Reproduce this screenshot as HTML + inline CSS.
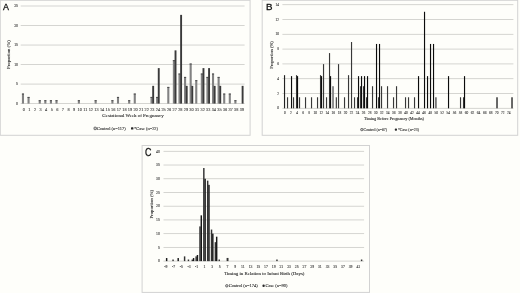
<!DOCTYPE html>
<html><head><meta charset="utf-8"><title>Figure</title>
<style>
html,body{margin:0;padding:0;background:#fefefa;}
body{width:520px;height:293px;overflow:hidden;}
svg{display:block}
.sf{font-family:"Liberation Serif","DejaVu Serif",serif;stroke:#2a2a2a;stroke-width:0.09px;}
.sl{font-family:"Liberation Serif","DejaVu Serif",serif;stroke:#444;stroke-width:0.1px;}
.ss{font-family:"Liberation Sans","DejaVu Sans",sans-serif;}
</style></head><body>
<svg width="520" height="293" viewBox="0 0 520 293">
<rect width="520" height="293" fill="#fefefa"/>
<rect x="0.3" y="0.3" width="249.79999999999998" height="135.0" fill="none" stroke="#d2d2d2" stroke-width="1"/>
<rect x="262.2" y="0.3" width="255.50000000000006" height="135.0" fill="none" stroke="#d2d2d2" stroke-width="1"/>
<rect x="142.1" y="145.5" width="227.4" height="146.89999999999998" fill="none" stroke="#d2d2d2" stroke-width="1"/>
<rect x="20.7" y="103.20" width="223.90" height="0.8" fill="#cbcbc7"/>
<text class="sl" x="18.00" y="104.85" font-size="3.8" text-anchor="end" fill="#444" >0</text>
<rect x="20.7" y="83.68" width="223.90" height="0.8" fill="#cbcbc7"/>
<text class="sl" x="18.00" y="85.33" font-size="3.8" text-anchor="end" fill="#444" >5</text>
<rect x="20.7" y="64.16" width="223.90" height="0.8" fill="#cbcbc7"/>
<text class="sl" x="18.00" y="65.81" font-size="3.8" text-anchor="end" fill="#444" >10</text>
<rect x="20.7" y="44.64" width="223.90" height="0.8" fill="#cbcbc7"/>
<text class="sl" x="18.00" y="46.29" font-size="3.8" text-anchor="end" fill="#444" >15</text>
<rect x="20.7" y="25.12" width="223.90" height="0.8" fill="#cbcbc7"/>
<text class="sl" x="18.00" y="26.77" font-size="3.8" text-anchor="end" fill="#444" >20</text>
<rect x="20.7" y="5.60" width="223.90" height="0.8" fill="#cbcbc7"/>
<text class="sl" x="18.00" y="7.25" font-size="3.8" text-anchor="end" fill="#444" >25</text>
<rect x="21.92" y="93.59" width="2.10" height="10.01" fill="#828282"/>
<rect x="21.92" y="93.59" width="2.10" height="0.90" fill="#444444"/>
<text class="sl" x="23.80" y="110.60" font-size="4.3" text-anchor="middle" fill="#444" >0</text>
<rect x="27.51" y="96.93" width="2.10" height="6.67" fill="#828282"/>
<rect x="27.51" y="96.93" width="2.10" height="0.90" fill="#444444"/>
<text class="sl" x="29.38" y="110.60" font-size="4.3" text-anchor="middle" fill="#444" >1</text>
<text class="sl" x="34.98" y="110.60" font-size="4.3" text-anchor="middle" fill="#444" >2</text>
<rect x="38.69" y="100.26" width="2.10" height="3.34" fill="#828282"/>
<rect x="38.69" y="100.26" width="2.10" height="0.90" fill="#444444"/>
<text class="sl" x="40.56" y="110.60" font-size="4.3" text-anchor="middle" fill="#444" >3</text>
<rect x="44.28" y="100.26" width="2.10" height="3.34" fill="#828282"/>
<rect x="44.28" y="100.26" width="2.10" height="0.90" fill="#444444"/>
<text class="sl" x="46.16" y="110.60" font-size="4.3" text-anchor="middle" fill="#444" >4</text>
<rect x="49.87" y="100.26" width="2.10" height="3.34" fill="#828282"/>
<rect x="49.87" y="100.26" width="2.10" height="0.90" fill="#444444"/>
<text class="sl" x="51.74" y="110.60" font-size="4.3" text-anchor="middle" fill="#444" >5</text>
<rect x="55.46" y="100.26" width="2.10" height="3.34" fill="#828282"/>
<rect x="55.46" y="100.26" width="2.10" height="0.90" fill="#444444"/>
<text class="sl" x="57.34" y="110.60" font-size="4.3" text-anchor="middle" fill="#444" >6</text>
<text class="sl" x="62.92" y="110.60" font-size="4.3" text-anchor="middle" fill="#444" >7</text>
<text class="sl" x="68.52" y="110.60" font-size="4.3" text-anchor="middle" fill="#444" >8</text>
<text class="sl" x="74.10" y="110.60" font-size="4.3" text-anchor="middle" fill="#444" >9</text>
<rect x="77.82" y="100.26" width="2.10" height="3.34" fill="#828282"/>
<rect x="77.82" y="100.26" width="2.10" height="0.90" fill="#444444"/>
<text class="sl" x="79.69" y="110.60" font-size="4.3" text-anchor="middle" fill="#444" >10</text>
<text class="sl" x="85.28" y="110.60" font-size="4.3" text-anchor="middle" fill="#444" >11</text>
<text class="sl" x="90.88" y="110.60" font-size="4.3" text-anchor="middle" fill="#444" >12</text>
<rect x="94.59" y="100.26" width="2.10" height="3.34" fill="#828282"/>
<rect x="94.59" y="100.26" width="2.10" height="0.90" fill="#444444"/>
<text class="sl" x="96.47" y="110.60" font-size="4.3" text-anchor="middle" fill="#444" >13</text>
<text class="sl" x="102.05" y="110.60" font-size="4.3" text-anchor="middle" fill="#444" >14</text>
<text class="sl" x="107.64" y="110.60" font-size="4.3" text-anchor="middle" fill="#444" >15</text>
<rect x="111.36" y="100.26" width="2.10" height="3.34" fill="#828282"/>
<rect x="111.36" y="100.26" width="2.10" height="0.90" fill="#444444"/>
<text class="sl" x="113.23" y="110.60" font-size="4.3" text-anchor="middle" fill="#444" >16</text>
<rect x="116.95" y="96.93" width="2.10" height="6.67" fill="#828282"/>
<rect x="116.95" y="96.93" width="2.10" height="0.90" fill="#444444"/>
<text class="sl" x="118.83" y="110.60" font-size="4.3" text-anchor="middle" fill="#444" >17</text>
<text class="sl" x="124.41" y="110.60" font-size="4.3" text-anchor="middle" fill="#444" >18</text>
<rect x="128.13" y="100.26" width="2.10" height="3.34" fill="#828282"/>
<rect x="128.13" y="100.26" width="2.10" height="0.90" fill="#444444"/>
<text class="sl" x="130.00" y="110.60" font-size="4.3" text-anchor="middle" fill="#444" >19</text>
<rect x="133.72" y="93.59" width="2.10" height="10.01" fill="#828282"/>
<rect x="133.72" y="93.59" width="2.10" height="0.90" fill="#444444"/>
<text class="sl" x="135.59" y="110.60" font-size="4.3" text-anchor="middle" fill="#444" >20</text>
<text class="sl" x="141.19" y="110.60" font-size="4.3" text-anchor="middle" fill="#444" >21</text>
<text class="sl" x="146.77" y="110.60" font-size="4.3" text-anchor="middle" fill="#444" >22</text>
<rect x="150.49" y="96.93" width="2.10" height="6.67" fill="#828282"/>
<rect x="150.49" y="96.93" width="2.10" height="0.90" fill="#444444"/>
<rect x="152.22" y="85.85" width="1.90" height="17.75" fill="#3a3a3a"/>
<text class="sl" x="152.37" y="110.60" font-size="4.3" text-anchor="middle" fill="#444" >23</text>
<rect x="156.08" y="96.93" width="2.10" height="6.67" fill="#828282"/>
<rect x="156.08" y="96.93" width="2.10" height="0.90" fill="#444444"/>
<rect x="157.80" y="68.11" width="1.90" height="35.49" fill="#3a3a3a"/>
<text class="sl" x="157.95" y="110.60" font-size="4.3" text-anchor="middle" fill="#444" >24</text>
<text class="sl" x="163.54" y="110.60" font-size="4.3" text-anchor="middle" fill="#444" >25</text>
<rect x="167.26" y="86.92" width="2.10" height="16.68" fill="#828282"/>
<rect x="167.26" y="86.92" width="2.10" height="0.90" fill="#444444"/>
<text class="sl" x="169.13" y="110.60" font-size="4.3" text-anchor="middle" fill="#444" >26</text>
<rect x="172.85" y="60.22" width="2.10" height="43.38" fill="#828282"/>
<rect x="172.85" y="60.22" width="2.10" height="0.90" fill="#444444"/>
<rect x="174.57" y="50.36" width="1.90" height="53.24" fill="#3a3a3a"/>
<text class="sl" x="174.72" y="110.60" font-size="4.3" text-anchor="middle" fill="#444" >27</text>
<rect x="178.44" y="73.57" width="2.10" height="30.03" fill="#828282"/>
<rect x="178.44" y="73.57" width="2.10" height="0.90" fill="#444444"/>
<rect x="180.16" y="14.87" width="1.90" height="88.73" fill="#3a3a3a"/>
<text class="sl" x="180.31" y="110.60" font-size="4.3" text-anchor="middle" fill="#444" >28</text>
<rect x="184.03" y="76.91" width="2.10" height="26.69" fill="#828282"/>
<rect x="184.03" y="76.91" width="2.10" height="0.90" fill="#444444"/>
<rect x="185.75" y="85.85" width="1.90" height="17.75" fill="#3a3a3a"/>
<text class="sl" x="185.91" y="110.60" font-size="4.3" text-anchor="middle" fill="#444" >29</text>
<rect x="189.62" y="63.56" width="2.10" height="40.04" fill="#828282"/>
<rect x="189.62" y="63.56" width="2.10" height="0.90" fill="#444444"/>
<rect x="191.34" y="85.85" width="1.90" height="17.75" fill="#3a3a3a"/>
<text class="sl" x="191.50" y="110.60" font-size="4.3" text-anchor="middle" fill="#444" >30</text>
<rect x="195.21" y="80.24" width="2.10" height="23.36" fill="#828282"/>
<rect x="195.21" y="80.24" width="2.10" height="0.90" fill="#444444"/>
<text class="sl" x="197.09" y="110.60" font-size="4.3" text-anchor="middle" fill="#444" >31</text>
<rect x="200.80" y="73.57" width="2.10" height="30.03" fill="#828282"/>
<rect x="200.80" y="73.57" width="2.10" height="0.90" fill="#444444"/>
<rect x="202.52" y="68.11" width="1.90" height="35.49" fill="#3a3a3a"/>
<text class="sl" x="202.67" y="110.60" font-size="4.3" text-anchor="middle" fill="#444" >32</text>
<rect x="206.39" y="76.91" width="2.10" height="26.69" fill="#828282"/>
<rect x="206.39" y="76.91" width="2.10" height="0.90" fill="#444444"/>
<rect x="208.11" y="68.11" width="1.90" height="35.49" fill="#3a3a3a"/>
<text class="sl" x="208.26" y="110.60" font-size="4.3" text-anchor="middle" fill="#444" >33</text>
<rect x="211.98" y="73.57" width="2.10" height="30.03" fill="#828282"/>
<rect x="211.98" y="73.57" width="2.10" height="0.90" fill="#444444"/>
<rect x="213.70" y="85.85" width="1.90" height="17.75" fill="#3a3a3a"/>
<text class="sl" x="213.85" y="110.60" font-size="4.3" text-anchor="middle" fill="#444" >34</text>
<rect x="217.57" y="76.91" width="2.10" height="26.69" fill="#828282"/>
<rect x="217.57" y="76.91" width="2.10" height="0.90" fill="#444444"/>
<rect x="219.29" y="85.85" width="1.90" height="17.75" fill="#3a3a3a"/>
<text class="sl" x="219.44" y="110.60" font-size="4.3" text-anchor="middle" fill="#444" >35</text>
<rect x="223.16" y="93.59" width="2.10" height="10.01" fill="#828282"/>
<rect x="223.16" y="93.59" width="2.10" height="0.90" fill="#444444"/>
<text class="sl" x="225.03" y="110.60" font-size="4.3" text-anchor="middle" fill="#444" >36</text>
<rect x="228.75" y="93.59" width="2.10" height="10.01" fill="#828282"/>
<rect x="228.75" y="93.59" width="2.10" height="0.90" fill="#444444"/>
<text class="sl" x="230.62" y="110.60" font-size="4.3" text-anchor="middle" fill="#444" >37</text>
<rect x="234.34" y="100.26" width="2.10" height="3.34" fill="#828282"/>
<rect x="234.34" y="100.26" width="2.10" height="0.90" fill="#444444"/>
<text class="sl" x="236.22" y="110.60" font-size="4.3" text-anchor="middle" fill="#444" >38</text>
<rect x="241.66" y="85.85" width="1.90" height="17.75" fill="#3a3a3a"/>
<text class="sl" x="241.81" y="110.60" font-size="4.3" text-anchor="middle" fill="#444" >39</text>
<text class="ss" transform="translate(6.0,10.2) scale(0.9,0.99)" font-size="9.9" text-anchor="middle" fill="#111" stroke="#111" stroke-width="0.32">A</text>
<text class="sf" x="132.90" y="117.20" font-size="4.89" text-anchor="middle" fill="#262626" >Gestational Week of Pregnancy</text>
<text class="sf" x="0.00" y="0.00" font-size="4.75" text-anchor="middle" fill="#262626" transform="translate(10.4,54.6) rotate(-90)">Proportion (%)</text>
<rect x="94.00" y="127.20" width="2.4" height="2.4" fill="#d8d8d8" stroke="#333" stroke-width="0.7" rx="0.5"/>
<text class="sf" x="96.90" y="129.78" font-size="4.45" text-anchor="start" fill="#262626" >Control (n=117)</text>
<rect x="131.00" y="127.20" width="2.4" height="2.4" fill="#2a2a2a" rx="0.5"/>
<text class="sf" x="134.00" y="129.78" font-size="4.45" text-anchor="start" fill="#262626" >*Case (n=22)</text>
<rect x="282.4" y="107.90" width="231.00" height="0.8" fill="#cbcbc7"/>
<text class="sl" x="279.00" y="109.45" font-size="3.5" text-anchor="end" fill="#444" >0</text>
<rect x="282.4" y="93.10" width="231.00" height="0.8" fill="#cbcbc7"/>
<text class="sl" x="279.00" y="94.66" font-size="3.5" text-anchor="end" fill="#444" >2</text>
<rect x="282.4" y="78.30" width="231.00" height="0.8" fill="#cbcbc7"/>
<text class="sl" x="279.00" y="79.86" font-size="3.5" text-anchor="end" fill="#444" >4</text>
<rect x="282.4" y="63.50" width="231.00" height="0.8" fill="#cbcbc7"/>
<text class="sl" x="279.00" y="65.06" font-size="3.5" text-anchor="end" fill="#444" >6</text>
<rect x="282.4" y="48.70" width="231.00" height="0.8" fill="#cbcbc7"/>
<text class="sl" x="279.00" y="50.26" font-size="3.5" text-anchor="end" fill="#444" >8</text>
<rect x="282.4" y="33.90" width="231.00" height="0.8" fill="#cbcbc7"/>
<text class="sl" x="279.00" y="35.45" font-size="3.5" text-anchor="end" fill="#444" >10</text>
<rect x="282.4" y="19.10" width="231.00" height="0.8" fill="#cbcbc7"/>
<text class="sl" x="279.00" y="20.66" font-size="3.5" text-anchor="end" fill="#444" >12</text>
<rect x="282.4" y="4.30" width="231.00" height="0.8" fill="#cbcbc7"/>
<text class="sl" x="279.00" y="5.86" font-size="3.5" text-anchor="end" fill="#444" >14</text>
<rect x="283.96" y="75.17" width="1.14" height="33.13" fill="#222"/>
<text class="sl" x="284.91" y="113.70" font-size="3.5" text-anchor="middle" fill="#444" >0</text>
<rect x="286.96" y="97.26" width="1.14" height="11.04" fill="#383838"/>
<rect x="290.96" y="76.13" width="1.14" height="32.17" fill="#0c0c0c"/>
<text class="sl" x="290.97" y="113.70" font-size="3.5" text-anchor="middle" fill="#444" >2</text>
<rect x="292.96" y="97.26" width="1.14" height="11.04" fill="#383838"/>
<rect x="295.96" y="75.17" width="1.14" height="33.13" fill="#383838"/>
<rect x="296.96" y="76.13" width="1.14" height="32.17" fill="#0c0c0c"/>
<text class="sl" x="297.02" y="113.70" font-size="3.5" text-anchor="middle" fill="#444" >4</text>
<rect x="298.96" y="97.26" width="1.14" height="11.04" fill="#383838"/>
<text class="sl" x="303.07" y="113.70" font-size="3.5" text-anchor="middle" fill="#444" >6</text>
<rect x="304.96" y="97.26" width="1.14" height="11.04" fill="#383838"/>
<text class="sl" x="309.12" y="113.70" font-size="3.5" text-anchor="middle" fill="#444" >8</text>
<rect x="310.96" y="97.26" width="1.14" height="11.04" fill="#383838"/>
<text class="sl" x="315.18" y="113.70" font-size="3.5" text-anchor="middle" fill="#444" >10</text>
<rect x="316.96" y="97.26" width="1.14" height="11.04" fill="#383838"/>
<rect x="319.96" y="75.17" width="1.14" height="33.13" fill="#383838"/>
<rect x="320.96" y="76.13" width="1.14" height="32.17" fill="#0c0c0c"/>
<text class="sl" x="321.23" y="113.70" font-size="3.5" text-anchor="middle" fill="#444" >12</text>
<rect x="322.96" y="64.12" width="1.14" height="44.18" fill="#383838"/>
<rect x="325.96" y="97.26" width="1.14" height="11.04" fill="#383838"/>
<text class="sl" x="327.28" y="113.70" font-size="3.5" text-anchor="middle" fill="#444" >14</text>
<rect x="328.96" y="53.08" width="1.14" height="55.22" fill="#383838"/>
<rect x="329.96" y="76.13" width="1.14" height="32.17" fill="#0c0c0c"/>
<rect x="332.06" y="86.21" width="1.90" height="22.09" fill="#8a8a8a"/>
<text class="sl" x="333.33" y="113.70" font-size="3.5" text-anchor="middle" fill="#444" >16</text>
<rect x="335.76" y="97.26" width="1.14" height="11.04" fill="#383838"/>
<rect x="337.96" y="64.12" width="1.14" height="44.18" fill="#383838"/>
<text class="sl" x="339.39" y="113.70" font-size="3.5" text-anchor="middle" fill="#444" >18</text>
<rect x="343.96" y="97.26" width="1.14" height="11.04" fill="#383838"/>
<text class="sl" x="345.44" y="113.70" font-size="3.5" text-anchor="middle" fill="#444" >20</text>
<rect x="347.96" y="75.17" width="1.14" height="33.13" fill="#383838"/>
<rect x="350.96" y="42.03" width="1.14" height="66.27" fill="#383838"/>
<text class="sl" x="351.49" y="113.70" font-size="3.5" text-anchor="middle" fill="#444" >22</text>
<rect x="353.96" y="97.26" width="1.14" height="11.04" fill="#383838"/>
<rect x="356.96" y="97.26" width="1.14" height="11.04" fill="#383838"/>
<rect x="357.96" y="76.13" width="1.14" height="32.17" fill="#0c0c0c"/>
<text class="sl" x="357.54" y="113.70" font-size="3.5" text-anchor="middle" fill="#444" >24</text>
<rect x="359.96" y="86.21" width="1.14" height="22.09" fill="#383838"/>
<rect x="360.96" y="76.13" width="1.14" height="32.17" fill="#0c0c0c"/>
<rect x="362.96" y="86.21" width="1.14" height="22.09" fill="#383838"/>
<rect x="363.96" y="76.13" width="1.14" height="32.17" fill="#0c0c0c"/>
<text class="sl" x="363.60" y="113.70" font-size="3.5" text-anchor="middle" fill="#444" >26</text>
<rect x="365.96" y="97.26" width="1.14" height="11.04" fill="#383838"/>
<rect x="366.96" y="76.13" width="1.14" height="32.17" fill="#0c0c0c"/>
<text class="sl" x="369.65" y="113.70" font-size="3.5" text-anchor="middle" fill="#444" >28</text>
<rect x="371.96" y="86.21" width="1.14" height="22.09" fill="#383838"/>
<rect x="375.96" y="43.95" width="1.14" height="64.35" fill="#0c0c0c"/>
<text class="sl" x="375.70" y="113.70" font-size="3.5" text-anchor="middle" fill="#444" >30</text>
<rect x="377.96" y="97.26" width="1.14" height="11.04" fill="#383838"/>
<rect x="378.96" y="43.95" width="1.14" height="64.35" fill="#0c0c0c"/>
<rect x="380.96" y="86.21" width="1.14" height="22.09" fill="#383838"/>
<text class="sl" x="381.76" y="113.70" font-size="3.5" text-anchor="middle" fill="#444" >32</text>
<rect x="386.96" y="86.21" width="1.14" height="22.09" fill="#383838"/>
<text class="sl" x="387.81" y="113.70" font-size="3.5" text-anchor="middle" fill="#444" >34</text>
<rect x="392.96" y="97.26" width="1.14" height="11.04" fill="#383838"/>
<text class="sl" x="393.86" y="113.70" font-size="3.5" text-anchor="middle" fill="#444" >36</text>
<rect x="395.96" y="86.21" width="1.14" height="22.09" fill="#383838"/>
<text class="sl" x="399.91" y="113.70" font-size="3.5" text-anchor="middle" fill="#444" >38</text>
<rect x="404.96" y="97.26" width="1.14" height="11.04" fill="#383838"/>
<text class="sl" x="405.97" y="113.70" font-size="3.5" text-anchor="middle" fill="#444" >40</text>
<rect x="407.96" y="97.26" width="1.14" height="11.04" fill="#383838"/>
<text class="sl" x="412.02" y="113.70" font-size="3.5" text-anchor="middle" fill="#444" >42</text>
<rect x="413.96" y="97.26" width="1.14" height="11.04" fill="#383838"/>
<rect x="417.96" y="76.13" width="1.14" height="32.17" fill="#0c0c0c"/>
<text class="sl" x="418.07" y="113.70" font-size="3.5" text-anchor="middle" fill="#444" >44</text>
<rect x="423.96" y="11.78" width="1.14" height="96.52" fill="#0c0c0c"/>
<text class="sl" x="424.12" y="113.70" font-size="3.5" text-anchor="middle" fill="#444" >46</text>
<rect x="426.96" y="76.13" width="1.14" height="32.17" fill="#0c0c0c"/>
<rect x="429.96" y="43.95" width="1.14" height="64.35" fill="#0c0c0c"/>
<text class="sl" x="430.18" y="113.70" font-size="3.5" text-anchor="middle" fill="#444" >48</text>
<rect x="432.96" y="43.95" width="1.14" height="64.35" fill="#0c0c0c"/>
<rect x="435.06" y="97.26" width="1.70" height="11.04" fill="#707070"/>
<text class="sl" x="436.23" y="113.70" font-size="3.5" text-anchor="middle" fill="#444" >50</text>
<text class="sl" x="442.28" y="113.70" font-size="3.5" text-anchor="middle" fill="#444" >52</text>
<rect x="447.96" y="76.13" width="1.14" height="32.17" fill="#0c0c0c"/>
<text class="sl" x="448.33" y="113.70" font-size="3.5" text-anchor="middle" fill="#444" >54</text>
<text class="sl" x="454.39" y="113.70" font-size="3.5" text-anchor="middle" fill="#444" >56</text>
<rect x="459.96" y="97.26" width="1.14" height="11.04" fill="#383838"/>
<text class="sl" x="460.44" y="113.70" font-size="3.5" text-anchor="middle" fill="#444" >58</text>
<rect x="462.96" y="97.26" width="1.14" height="11.04" fill="#383838"/>
<rect x="463.96" y="76.13" width="1.14" height="32.17" fill="#0c0c0c"/>
<text class="sl" x="466.49" y="113.70" font-size="3.5" text-anchor="middle" fill="#444" >60</text>
<text class="sl" x="472.54" y="113.70" font-size="3.5" text-anchor="middle" fill="#444" >62</text>
<text class="sl" x="478.60" y="113.70" font-size="3.5" text-anchor="middle" fill="#444" >64</text>
<text class="sl" x="484.65" y="113.70" font-size="3.5" text-anchor="middle" fill="#444" >66</text>
<text class="sl" x="490.70" y="113.70" font-size="3.5" text-anchor="middle" fill="#444" >68</text>
<rect x="496.26" y="97.26" width="1.50" height="11.04" fill="#383838"/>
<text class="sl" x="496.76" y="113.70" font-size="3.5" text-anchor="middle" fill="#444" >70</text>
<text class="sl" x="502.81" y="113.70" font-size="3.5" text-anchor="middle" fill="#444" >72</text>
<text class="sl" x="508.86" y="113.70" font-size="3.5" text-anchor="middle" fill="#444" >74</text>
<rect x="511.26" y="97.26" width="1.50" height="11.04" fill="#383838"/>
<text class="ss" transform="translate(269.3,10.4) scale(0.985,0.97)" font-size="9.9" text-anchor="middle" fill="#111" stroke="#111" stroke-width="0.3">B</text>
<text class="sf" x="394.00" y="120.00" font-size="4.19" text-anchor="middle" fill="#262626" >Timing Before Pregnancy (Months)</text>
<text class="sf" x="0.00" y="0.00" font-size="4.6" text-anchor="middle" fill="#262626" transform="translate(272.6,55) rotate(-90)">Proportion (%)</text>
<rect x="360.70" y="128.50" width="2.2" height="2.2" fill="#d8d8d8" stroke="#333" stroke-width="0.7" rx="0.8"/>
<text class="sf" x="363.60" y="130.81" font-size="3.9" text-anchor="start" fill="#262626" >Control (n=67)</text>
<rect x="394.80" y="128.50" width="2.2" height="2.2" fill="#2a2a2a" rx="0.8"/>
<text class="sf" x="397.90" y="130.81" font-size="3.9" text-anchor="start" fill="#262626" >*Case (n=23)</text>
<rect x="163.5" y="260.70" width="200.60" height="0.8" fill="#cbcbc7"/>
<text class="sl" x="159.90" y="262.35" font-size="3.8" text-anchor="end" fill="#444" >0</text>
<rect x="163.5" y="246.98" width="200.60" height="0.8" fill="#cbcbc7"/>
<text class="sl" x="159.90" y="248.63" font-size="3.8" text-anchor="end" fill="#444" >5</text>
<rect x="163.5" y="233.25" width="200.60" height="0.8" fill="#cbcbc7"/>
<text class="sl" x="159.90" y="234.90" font-size="3.8" text-anchor="end" fill="#444" >10</text>
<rect x="163.5" y="219.53" width="200.60" height="0.8" fill="#cbcbc7"/>
<text class="sl" x="159.90" y="221.18" font-size="3.8" text-anchor="end" fill="#444" >15</text>
<rect x="163.5" y="205.80" width="200.60" height="0.8" fill="#cbcbc7"/>
<text class="sl" x="159.90" y="207.45" font-size="3.8" text-anchor="end" fill="#444" >20</text>
<rect x="163.5" y="192.08" width="200.60" height="0.8" fill="#cbcbc7"/>
<text class="sl" x="159.90" y="193.73" font-size="3.8" text-anchor="end" fill="#444" >25</text>
<rect x="163.5" y="178.35" width="200.60" height="0.8" fill="#cbcbc7"/>
<text class="sl" x="159.90" y="180.00" font-size="3.8" text-anchor="end" fill="#444" >30</text>
<rect x="163.5" y="164.62" width="200.60" height="0.8" fill="#cbcbc7"/>
<text class="sl" x="159.90" y="166.28" font-size="3.8" text-anchor="end" fill="#444" >35</text>
<rect x="163.5" y="150.90" width="200.60" height="0.8" fill="#cbcbc7"/>
<text class="sl" x="159.90" y="152.55" font-size="3.8" text-anchor="end" fill="#444" >40</text>
<rect x="165.92" y="258.05" width="1.45" height="3.05" fill="#181818"/>
<text class="sl" x="165.92" y="267.50" font-size="3.8" text-anchor="middle" fill="#444" >-9</text>
<rect x="172.33" y="259.52" width="1.45" height="1.58" fill="#333333"/>
<text class="sl" x="173.62" y="267.50" font-size="3.8" text-anchor="middle" fill="#444" >-7</text>
<rect x="177.47" y="258.05" width="1.45" height="3.05" fill="#181818"/>
<text class="sl" x="181.32" y="267.50" font-size="3.8" text-anchor="middle" fill="#444" >-5</text>
<rect x="183.87" y="256.37" width="1.45" height="4.73" fill="#333333"/>
<rect x="187.72" y="259.52" width="1.45" height="1.58" fill="#333333"/>
<text class="sl" x="189.01" y="267.50" font-size="3.8" text-anchor="middle" fill="#444" >-3</text>
<rect x="191.57" y="259.52" width="1.45" height="1.58" fill="#333333"/>
<rect x="192.86" y="258.05" width="1.45" height="3.05" fill="#181818"/>
<rect x="195.42" y="256.37" width="1.45" height="4.73" fill="#333333"/>
<rect x="196.71" y="255.00" width="1.45" height="6.10" fill="#181818"/>
<text class="sl" x="196.71" y="267.50" font-size="3.8" text-anchor="middle" fill="#444" >-1</text>
<rect x="199.26" y="226.39" width="1.45" height="34.71" fill="#333333"/>
<rect x="200.56" y="215.35" width="1.45" height="45.75" fill="#181818"/>
<rect x="203.11" y="168.02" width="1.45" height="93.08" fill="#333333"/>
<rect x="204.40" y="178.75" width="1.45" height="82.35" fill="#181818"/>
<text class="sl" x="204.40" y="267.50" font-size="3.8" text-anchor="middle" fill="#444" >1</text>
<rect x="206.96" y="180.64" width="1.45" height="80.46" fill="#333333"/>
<rect x="208.25" y="184.85" width="1.45" height="76.25" fill="#181818"/>
<rect x="210.81" y="229.55" width="1.45" height="31.55" fill="#333333"/>
<rect x="212.10" y="233.65" width="1.45" height="27.45" fill="#181818"/>
<text class="sl" x="212.10" y="267.50" font-size="3.8" text-anchor="middle" fill="#444" >3</text>
<rect x="214.66" y="242.17" width="1.45" height="18.93" fill="#333333"/>
<rect x="215.95" y="236.70" width="1.45" height="24.40" fill="#181818"/>
<rect x="218.50" y="259.52" width="1.45" height="1.58" fill="#333333"/>
<text class="sl" x="219.80" y="267.50" font-size="3.8" text-anchor="middle" fill="#444" >5</text>
<rect x="226.60" y="257.94" width="1.90" height="3.16" fill="#333333"/>
<text class="sl" x="227.49" y="267.50" font-size="3.8" text-anchor="middle" fill="#444" >7</text>
<text class="sl" x="235.19" y="267.50" font-size="3.8" text-anchor="middle" fill="#444" >9</text>
<text class="sl" x="242.89" y="267.50" font-size="3.8" text-anchor="middle" fill="#444" >11</text>
<text class="sl" x="250.58" y="267.50" font-size="3.8" text-anchor="middle" fill="#444" >13</text>
<text class="sl" x="258.28" y="267.50" font-size="3.8" text-anchor="middle" fill="#444" >15</text>
<text class="sl" x="265.97" y="267.50" font-size="3.8" text-anchor="middle" fill="#444" >17</text>
<text class="sl" x="273.67" y="267.50" font-size="3.8" text-anchor="middle" fill="#444" >19</text>
<rect x="276.23" y="259.52" width="1.45" height="1.58" fill="#333333"/>
<text class="sl" x="281.37" y="267.50" font-size="3.8" text-anchor="middle" fill="#444" >21</text>
<text class="sl" x="289.06" y="267.50" font-size="3.8" text-anchor="middle" fill="#444" >23</text>
<text class="sl" x="296.76" y="267.50" font-size="3.8" text-anchor="middle" fill="#444" >25</text>
<text class="sl" x="304.45" y="267.50" font-size="3.8" text-anchor="middle" fill="#444" >27</text>
<text class="sl" x="312.15" y="267.50" font-size="3.8" text-anchor="middle" fill="#444" >29</text>
<text class="sl" x="319.85" y="267.50" font-size="3.8" text-anchor="middle" fill="#444" >31</text>
<text class="sl" x="327.54" y="267.50" font-size="3.8" text-anchor="middle" fill="#444" >33</text>
<text class="sl" x="335.24" y="267.50" font-size="3.8" text-anchor="middle" fill="#444" >35</text>
<text class="sl" x="342.94" y="267.50" font-size="3.8" text-anchor="middle" fill="#444" >37</text>
<text class="sl" x="350.63" y="267.50" font-size="3.8" text-anchor="middle" fill="#444" >39</text>
<text class="sl" x="358.33" y="267.50" font-size="3.8" text-anchor="middle" fill="#444" >41</text>
<rect x="360.88" y="259.52" width="1.45" height="1.58" fill="#333333"/>
<text class="ss" transform="translate(148.1,155.5) scale(0.9,1.08)" font-size="9.9" text-anchor="middle" fill="#111" stroke="#111" stroke-width="0.25">C</text>
<text class="sf" x="264.30" y="274.60" font-size="4.86" text-anchor="middle" fill="#262626" >Timing in Relation to Infant Birth (Days)</text>
<text class="sf" x="0.00" y="0.00" font-size="4.75" text-anchor="middle" fill="#262626" transform="translate(152.6,204.2) rotate(-90)">Proportion (%)</text>
<rect x="225.60" y="284.60" width="2.4" height="2.4" fill="#d8d8d8" stroke="#333" stroke-width="0.7" rx="1.1"/>
<text class="sf" x="228.70" y="287.18" font-size="4.45" text-anchor="start" fill="#262626" >Control (n=174)</text>
<rect x="262.40" y="284.60" width="2.4" height="2.4" fill="#2a2a2a" rx="1.1"/>
<text class="sf" x="265.60" y="287.18" font-size="4.45" text-anchor="start" fill="#262626" >Case (n=90)</text>
</svg>
</body></html>
